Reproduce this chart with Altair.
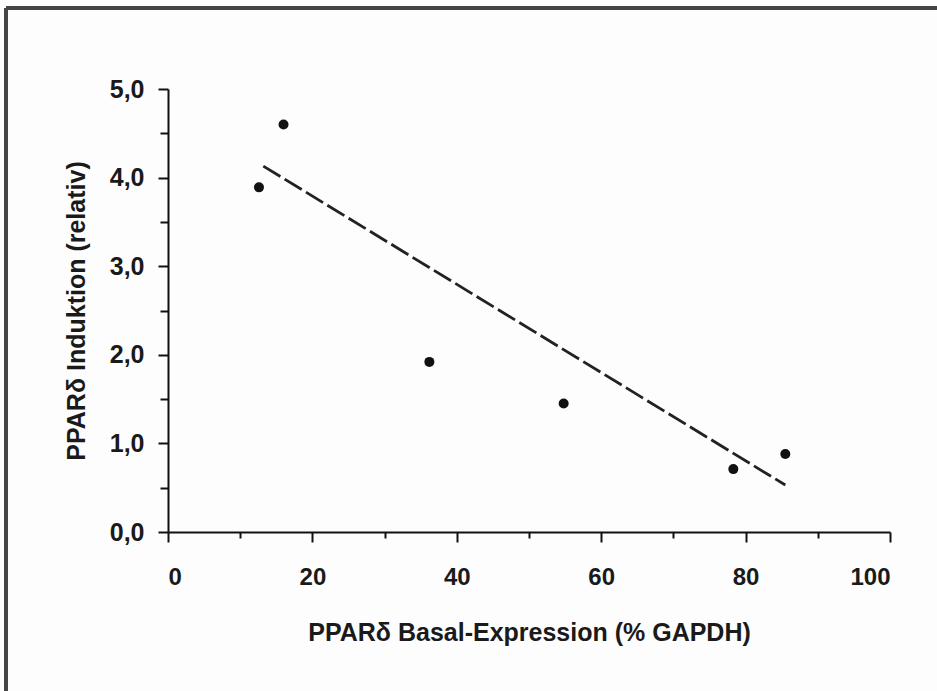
import altair as alt
import pandas as pd

# data
basal = [12.6, 16.0, 36.2, 54.8, 78.3, 85.5]
induktion = [3.89, 4.60, 1.92, 1.45, 0.71, 0.88]
fit_x = [13.2, 85.5]
fit_y = [4.13, 0.53]
x_ticks = [v * 5 for v in range(21)]
y_ticks = [v * 0.5 for v in range(11)]

pts = pd.DataFrame({"x": basal, "y": induktion})
fit = pd.DataFrame({"x": fit_x, "y": fit_y})

W, H = 722, 443
PL, PT = 168, 89
FONT = "Liberation Sans"

xscale = alt.Scale(domain=[0, 100], nice=False, zero=False)
yscale = alt.Scale(domain=[0, 5], nice=False, zero=False)

xaxis = alt.Axis(
    values=x_ticks,
    labelExpr="datum.value % 20 === 0 ? datum.label : ''",
    format="d",
    grid=False,
    domainColor="#111", domainWidth=2,
    tickColor="#111", tickWidth=2,
    tickSize={"condition": {"test": "datum.value % 20 === 0", "value": 10}, "value": 6},
    labelFont=FONT, labelFontWeight="bold", labelFontSize=24,
    labelColor="#1a1a1a", labelPadding=23,
    title="PPARδ Basal-Expression (% GAPDH)",
    titleFont=FONT, titleFontWeight="bold", titleFontSize=25,
    titleColor="#1a1a1a", titlePadding=31,
)
yaxis = alt.Axis(
    values=y_ticks,
    labelExpr="datum.value % 1 === 0 ? replace(format(datum.value, '.1f'), '.', ',') : ''",
    grid=False,
    domainColor="#111", domainWidth=2,
    tickColor="#111", tickWidth=2,
    tickSize={"condition": {"test": "datum.value % 1 === 0", "value": 10}, "value": 8},
    labelFont=FONT, labelFontWeight="bold", labelFontSize=25,
    labelColor="#1a1a1a", labelPadding=14,
    title="PPARδ Induktion (relativ)",
    titleFont=FONT, titleFontWeight="bold", titleFontSize=25,
    titleColor="#1a1a1a", titlePadding=20,
)

points = alt.Chart(pts).mark_circle(size=100, color="#111", opacity=1).encode(
    x=alt.X("x:Q", scale=xscale, axis=xaxis),
    y=alt.Y("y:Q", scale=yscale, axis=yaxis),
)

line = alt.Chart(fit).mark_line(color="#222", strokeWidth=2.8, strokeDash=[20, 5]).encode(
    x=alt.X("x:Q", scale=xscale),
    y=alt.Y("y:Q", scale=yscale),
)

frame_top = alt.Chart(pts).mark_rule(color="#444", strokeWidth=3).encode(
    x=alt.value(6 - PL), x2=alt.value(937 - PL), y=alt.value(8 - PT)
)
frame_left = alt.Chart(pts).mark_rule(color="#444", strokeWidth=3).encode(
    x=alt.value(6 - PL), y=alt.value(8 - PT), y2=alt.value(691 - PT)
)

chart = alt.layer(line, points, frame_top, frame_left).properties(
    width=W, height=H,
    padding={"left": PL, "top": PT, "right": 937 - PL - W, "bottom": 691 - PT - H},
    autosize=alt.AutoSizeParams(type="none"),
    background="#fdfdfd",
).configure_view(stroke=None)

chart.save("out.html", embed_options={"renderer": "svg", "actions": False})
